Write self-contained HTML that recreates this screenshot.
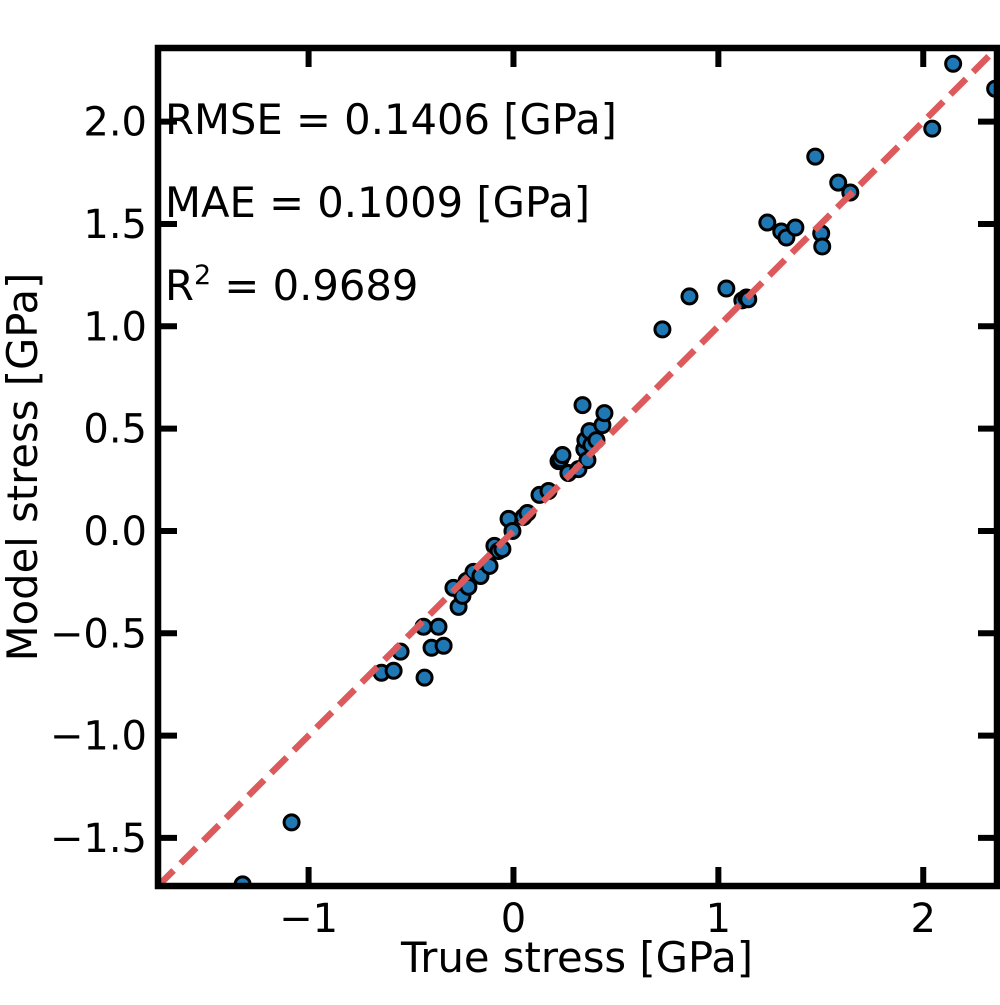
<!DOCTYPE html>
<html><head><meta charset="utf-8"><style>
body{margin:0;background:#fff;width:1000px;height:1000px;overflow:hidden}
svg text{font-family:"DejaVu Sans","Liberation Sans",sans-serif;fill:#000}
</style></head><body>
<svg id="chart" width="1000" height="1000">
<defs><clipPath id="pc"><rect x="158" y="48" width="839" height="838"/></clipPath></defs>
<g id="marks" clip-path="url(#pc)"></g>
<g id="axes"></g>
</svg>
<script>
const trueVals=[-1.322,-1.083,-0.644,-0.585,-0.551,-0.439,-0.434,-0.400,-0.366,-0.341,-0.293,-0.268,-0.249,-0.229,-0.220,-0.195,-0.161,-0.117,-0.093,-0.073,-0.054,-0.024,-0.005,0.049,0.068,0.127,0.171,0.220,0.229,0.239,0.268,0.317,0.337,0.346,0.351,0.361,0.371,0.380,0.405,0.434,0.444,0.727,0.859,1.039,1.117,1.137,1.146,1.239,1.307,1.332,1.376,1.473,1.502,1.507,1.585,1.644,2.044,2.146,2.351];
const modelVals=[-1.727,-1.424,-0.693,-0.683,-0.590,-0.468,-0.717,-0.571,-0.468,-0.561,-0.278,-0.371,-0.317,-0.244,-0.273,-0.200,-0.220,-0.171,-0.073,-0.098,-0.088,0.059,0.000,0.068,0.088,0.176,0.195,0.341,0.351,0.371,0.283,0.302,0.615,0.400,0.444,0.346,0.488,0.420,0.444,0.517,0.576,0.985,1.146,1.185,1.127,1.141,1.132,1.507,1.463,1.434,1.483,1.829,1.454,1.390,1.702,1.654,1.966,2.283,2.161];
const xTicks=[-1,0,1,2];
const xTickLabels=["\u22121","0","1","2"];
const yTicks=[-1.5,-1,-0.5,0,0.5,1,1.5,2];
const yTickLabels=["\u22121.5","\u22121.0","\u22120.5","0.0","0.5","1.0","1.5","2.0"];
const lim=[-1.735,2.36];
const X0=158,X1=997,Y0=886,Y1=48;
const sx=v=>X0+(v-lim[0])/(lim[1]-lim[0])*(X1-X0);
const sy=v=>Y0-(v-lim[0])/(lim[1]-lim[0])*(Y0-Y1);
const NS="http://www.w3.org/2000/svg";
function mk(t,a,p){const e=document.createElementNS(NS,t);for(const k in a)e.setAttribute(k,a[k]);p.appendChild(e);return e;}
const marks=document.getElementById('marks'),axes=document.getElementById('axes');
trueVals.forEach((v,i)=>{
 const c=mk('circle',{cx:sx(v),cy:sy(modelVals[i]),r:7.5,fill:'#1f77b4',stroke:'#000','stroke-width':3},marks);
 
 
});
const ln=mk('line',{x1:sx(lim[0]),y1:sy(lim[0]),x2:sx(lim[1]),y2:sy(lim[1]),stroke:'#dc5a5c','stroke-width':6.5,'stroke-dasharray':'22 10'},marks);


const fr=mk('rect',{x:X0,y:Y1,width:X1-X0,height:Y0-Y1,fill:'none',stroke:'#000','stroke-width':6.5},axes);


xTicks.forEach((v,i)=>{
 const x=sx(v);
 mk('line',{x1:x,y1:Y0,x2:x,y2:Y0-19,stroke:'#000','stroke-width':6},axes);
 mk('line',{x1:x,y1:Y1,x2:x,y2:Y1+19,stroke:'#000','stroke-width':6},axes);
 const t=mk('text',{x:x,y:932,'text-anchor':'middle','font-size':40},axes);t.textContent=xTickLabels[i];
 
 
});
yTicks.forEach((v,i)=>{
 const y=sy(v);
 mk('line',{x1:X0,y1:y,x2:X0+19,y2:y,stroke:'#000','stroke-width':6},axes);
 mk('line',{x1:X1,y1:y,x2:X1-19,y2:y,stroke:'#000','stroke-width':6},axes);
 const t=mk('text',{x:147,y:y+14,'text-anchor':'end','font-size':40},axes);t.textContent=yTickLabels[i];
 
 
});
</script>
<svg width="1000" height="1000" style="position:absolute;left:0;top:0">
<text x="577" y="972" text-anchor="middle" font-size="41.7">True stress [GPa]</text>
<text transform="translate(37,467) rotate(-90)" text-anchor="middle" font-size="41.7">Model stress [GPa]</text>
<text x="165" y="134" font-size="41.7">RMSE = 0.1406 [GPa]</text>
<text x="165" y="217" font-size="41.7">MAE = 0.1009 [GPa]</text>
<text x="165" y="300" font-size="41.7">R<tspan font-size="27" dy="-16">2</tspan><tspan dy="16"> = 0.9689</tspan></text>
</svg>
</body></html>
